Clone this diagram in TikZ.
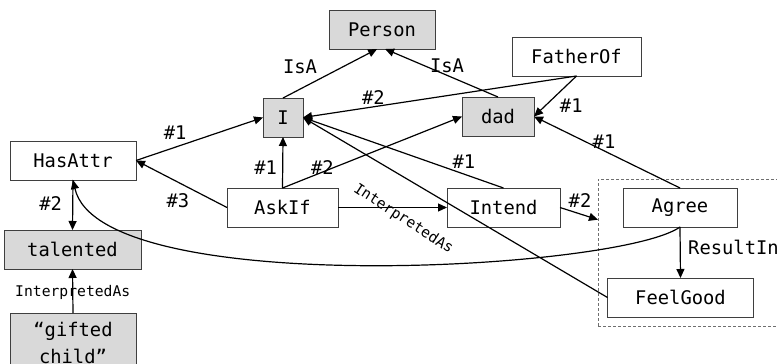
\documentclass[tikz,border=0pt]{standalone}
\usepackage{fontspec}
\setmainfont{DejaVu Sans Mono}
\usepackage{tikz}
\usetikzlibrary{arrows.meta, positioning}
\definecolor{cptgray}{HTML}{D9D9D9}
\definecolor{cptline}{HTML}{3F3F3F}
\definecolor{grpline}{HTML}{6F6F6F}

\begin{document}
\begin{tikzpicture}[
  x=0.5pt, y=-0.5pt,
  every node/.style={font=\fontsize{9.4}{13.5}\selectfont, inner sep=0pt, outer sep=0pt},
  rel/.style={draw=cptline, line width=0.5pt, fill=white, minimum height=19.5pt, align=center},
  cpt/.style={rel, fill=cptgray},
  grp/.style={draw=grpline, line width=0.5pt, dash pattern=on 1.5pt off 1pt},
  arr/.style={-{Triangle[length=4.5pt,width=4pt]}, line width=0.6pt},
  lbl/.style={inner sep=0pt},
  smalllbl/.style={font=\fontsize{7.35}{9}\selectfont}
]
\useasboundingbox (0,0) rectangle (777,364);

% group frame
\node[grp, minimum width=101pt, minimum height=73.5pt] (grp) at (699,252.5) {};

% concepts and relations
\node[cpt, minimum width=53pt] (person) at (382,29.5) {Person};
\node[rel, minimum width=64.5pt] (fatherof) at (576.5,56.5) {FatherOf};
\node[cpt, minimum width=20pt] (i) at (283,117.5) {I};
\node[cpt, minimum width=36pt] (dad) at (498,116.5) {dad};
\node[rel, minimum width=63pt] (hasattr) at (73,160.5) {HasAttr};
\node[rel, minimum width=55.5pt] (askif) at (282.5,207.5) {AskIf};
\node[rel, minimum width=56.5pt] (intend) at (503.5,207.5) {Intend};
\node[rel, minimum width=57pt] (agree) at (680,207.5) {Agree};
\node[rel, minimum width=73pt] (feelgood) at (680.5,297.5) {FeelGood};
\node[cpt, minimum width=68.5pt] (talented) at (72.5,249.5) {talented};
\node[cpt, minimum width=63pt, minimum height=30pt] (gifted) at (73,343) {“gifted\\child”};

% edges
\draw[arr] (i.north) -- node[lbl, shift={(-30,-6.5)}] {IsA} (person.256);
\draw[arr] (dad.north) -- node[lbl, shift={(5.5,-7)}] {IsA} (person.279);
\draw[arr] (fatherof.south) -- node[lbl, pos=0.75, shift={(2,-9.5)}] {\#2} (i.east);
\draw[arr] (fatherof.south) -- node[lbl, shift={(16,9)}] {\#1} (dad.east);
\draw[arr] (hasattr.east) -- node[lbl, pos=0.3, shift={(1,-15)}] {\#1} (i.west);
\draw[arr] (askif.north) -- node[lbl, pos=0.4, shift={(-17,0)}] {\#1} (i.south);
\draw[arr] (askif.north) -- node[lbl, pos=0.2, shift={(4,-6)}] {\#2} (dad.west);
\draw[arr] (askif.west) -- node[lbl, shift={(-3.5,17)}] {\#3} (hasattr.east);
\draw[arr] (intend.north) -- node[lbl, pos=0.2, shift={(0.5,-12)}] {\#1} (i.east);
\draw[arr] (askif.east) -- node[lbl, smalllbl, pos=0.6, shift={(0,11.5)}, rotate=-33] {InterpretedAs} (intend.west);
\draw[arr] (intend.east) -- node[lbl, shift={(1,-13)}] {\#2} (grp.162);
\draw[arr] (agree.north) -- node[lbl, shift={(-3,-11)}] {\#1} (dad.east);
\draw[arr] (agree.south) -- node[lbl, pos=0.4, anchor=west, shift={(8,0)}] {ResultIn} (feelgood.north);
\draw[arr] (feelgood.west) -- (i.east);
\draw[arr] (agree.south) .. controls (620,270) and (100,300) .. (hasattr.south);
\draw[arr] (hasattr.south) -- node[lbl, shift={(-22,-1)}] {\#2} (talented.north);
\draw[arr] (gifted.north) -- node[lbl, smalllbl, shift={(0,1)}] {InterpretedAs} (talented.south);
\end{tikzpicture}
\end{document}
